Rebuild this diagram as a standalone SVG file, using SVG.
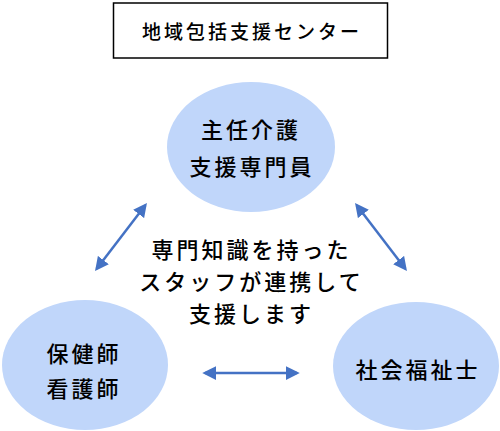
<svg xmlns="http://www.w3.org/2000/svg" width="500" height="431" viewBox="0 0 500 431">
<defs>
<style>
text{font-family:"Noto Sans CJK JP","Noto Sans",sans-serif;fill:#000;text-anchor:middle;dominant-baseline:central;font-weight:500}
.node{fill:#C0D6FA}
.t{font-size:22px;letter-spacing:3px}
.c{stroke:#4472C4;stroke-width:2.5;fill:none;marker-start:url(#ah);marker-end:url(#ah)}
</style>
<marker id="ah" viewBox="0 0 10 10" refX="8" refY="5" markerWidth="5.5" markerHeight="5.5" orient="auto-start-reverse" markerUnits="strokeWidth">
<path d="M0,0 L10,5 L0,10 z" fill="#4472C4"/>
</marker>
</defs>
<g id="title">
<rect x="113.5" y="3" width="274" height="55" fill="#fff" stroke="#000" stroke-width="1.5"/>
<text x="252" y="30.5" style="font-size:19px;letter-spacing:3px">地域包括支援センター</text>
</g>
<g id="care-manager">
<ellipse class="node" cx="251" cy="147" rx="84" ry="65"/>
<text class="t" x="251" y="128">主任介護</text>
<text class="t" x="252" y="165">支援専門員</text>
</g>
<g id="nurse">
<ellipse class="node" cx="85" cy="365" rx="83" ry="65"/>
<text class="t" x="84" y="352">保健師</text>
<text class="t" x="84" y="387">看護師</text>
</g>
<g id="social-worker">
<ellipse class="node" cx="416" cy="366" rx="83" ry="64"/>
<text class="t" x="418" y="368">社会福祉士</text>
</g>
<g id="center-text">
<text class="t" x="251.5" y="248">専門知識を持った</text>
<text class="t" x="251.5" y="280">スタッフが連携して</text>
<text class="t" x="251.5" y="312">支援します</text>
</g>
<g id="connectors">
<line class="c" x1="145.3" y1="205.2" x2="96.7" y2="268.8"/>
<line class="c" x1="356.7" y1="205.2" x2="405.3" y2="268.8"/>
<line class="c" x1="205" y1="373" x2="297" y2="373"/>
</g>
</svg>
